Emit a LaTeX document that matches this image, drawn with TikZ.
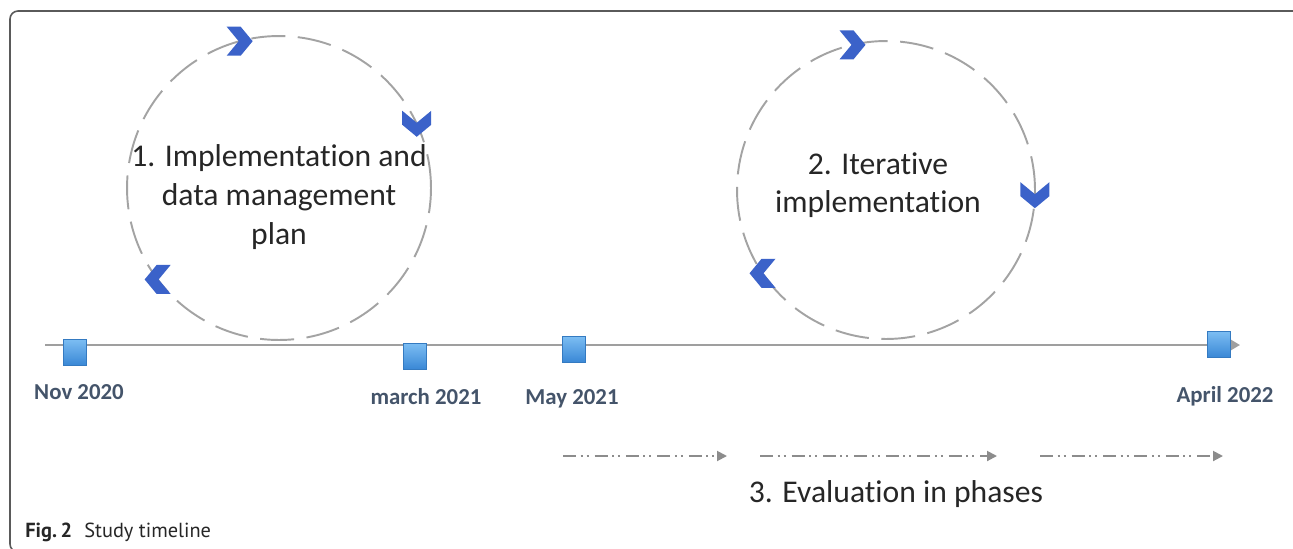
\documentclass[tikz,border=0pt]{standalone}
\usepackage{fontspec}
\setmainfont{Carlito}[Ligatures=NoCommon]
\newfontfamily\capfont{PT Sans}
\usepackage{xcolor}
\usepackage{tikz}
\usetikzlibrary{positioning, arrows.meta}
\definecolor{chevblue}{HTML}{3B62C9}
\definecolor{boxtop}{HTML}{7DBEF3}
\definecolor{boxbot}{HTML}{3A88D6}
\definecolor{datecol}{HTML}{44546A}
\definecolor{ringgray}{HTML}{A3A3A3}
\definecolor{evalgray}{HTML}{8C8C8C}
\definecolor{framegray}{HTML}{5A5A5A}

\begin{document}
\begin{tikzpicture}[x=0.02cm, y=-0.02cm,
  ring/.style={circle, draw=ringgray, line width=1.1pt, dash pattern=on 0.68cm off 0.25cm, inner sep=0pt, outer sep=0pt},
  cyctext/.style={align=center, font=\fontsize{18}{22}\selectfont, text=black!85},
  tickbox/.style={rectangle, minimum width=0.46cm, minimum height=0.52cm, inner sep=0pt, top color=boxtop, bottom color=boxbot, draw=boxbot!90!black, line width=0.3pt},
  datelbl/.style={anchor=base, font=\fontsize{13}{15}\selectfont\bfseries, text=datecol},
  tline/.style={draw=gray!75, line width=1.2pt, -{Triangle[length=0.18cm, width=0.2cm]}},
  evalarrow/.style={draw=evalgray, line width=1.1pt, dash pattern=on 0.26cm off 0.09cm on 0.04cm off 0.08cm on 0.04cm off 0.12cm, -{Triangle[length=0.2cm, width=0.2cm]}},
  chevron/.pic={\fill[chevblue] (-13,-14.5) -- (1,-14.5) -- (13,0) -- (1,14.5) -- (-13,14.5) -- (-1,0) -- cycle;}
]
\useasboundingbox (0,0) rectangle (1293,548);

% --- Frame ---
\draw[framegray, line width=0.9pt, rounded corners=0.16cm] (20,552) -- (10,552) -- (10,11) -- (1302,11) -- (1302,40);

% --- Cycle 1 ---
\node[ring, minimum size=6.08cm] (cyc1) at (279,188) {};
\pic at (cyc1.105) {chevron};
\pic[rotate=-90] at (cyc1.25) {chevron};
\pic[rotate=180] at (cyc1.217) {chevron};
\node[cyctext] (txt1) at (279,197) {1. Implementation and\\data management\\plan};

% --- Cycle 2 ---
\node[ring, minimum size=5.96cm] (cyc2) at (886,190) {};
\pic at (cyc2.103) {chevron};
\pic[rotate=-90] at (cyc2.-2) {chevron};
\pic[rotate=180] at (cyc2.214) {chevron};
\node[cyctext] (txt2) at (878,185) {2. Iterative\\implementation};

% --- Timeline ---
\coordinate (tlS) at (45,345);
\coordinate (tlE) at (1240,345);
\draw[tline] (tlS) -- (tlE);
\node[tickbox] (bNov) at (75,352) {};
\node[tickbox] (bMar) at (415,356) {};
\node[tickbox] (bMay) at (574,349) {};
\node[tickbox] (bApr) at (1219,344) {};
\node[datelbl] (lNov) at (79,399) {Nov 2020};
\node[datelbl] (lMar) at (426,404) {march 2021};
\node[datelbl] (lMay) at (572,404) {May 2021};
\node[datelbl] (lApr) at (1225,402) {April 2022};

% --- Evaluation phases ---
\coordinate (e1s) at (563,456);
\coordinate (e1e) at (727,456);
\coordinate (e2s) at (760,456);
\coordinate (e2e) at (997,456);
\coordinate (e3s) at (1040,456);
\coordinate (e3e) at (1223,456);
\draw[evalarrow] (e1s) -- (e1e);
\draw[evalarrow] (e2s) -- (e2e);
\draw[evalarrow] (e3s) -- (e3e);
\node[cyctext, anchor=base] (evaltxt) at (896,502) {3. Evaluation in phases};

% --- Caption ---
\node[anchor=base west, inner sep=0pt, font=\capfont\fontsize{11.6}{13}\selectfont, text=black!85] (cap) at (25,537) {\textbf{Fig.\,2}\hspace{0.6em}Study timeline};
\end{tikzpicture}
\end{document}
